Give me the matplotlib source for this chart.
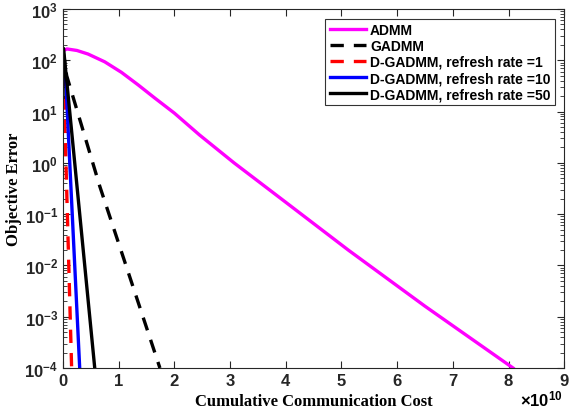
import numpy as np
import matplotlib
matplotlib.use("Agg")
import matplotlib.pyplot as plt
from matplotlib.ticker import LogLocator, NullFormatter, FixedLocator

plt.rcParams['font.family'] = ['Liberation Sans', 'DejaVu Sans']
plt.rcParams['mathtext.fontset'] = 'custom'
plt.rcParams['mathtext.rm'] = 'Liberation Sans:bold'
plt.rcParams['mathtext.bf'] = 'Liberation Sans:bold'

# cumulative communication cost, in units of 1e10
admm_x = [0.0, 0.07, 0.25, 0.45, 0.75, 1.05, 1.35, 1.64, 2.0, 2.45, 3.07,
          4.0, 5.12, 6.5, 8.08]
admm_y = [151, 166, 155, 132, 93, 58, 33, 18.6, 9.3, 3.5, 1.0,
          0.17, 0.02, 1.6e-3, 1e-4]

gadmm_x = [0.0, 0.066, 0.66, 1.74]
gadmm_y = [160, 50, 0.35, 1e-4]

dg1_x = [0.0, 0.023, 0.155]
dg1_y = [160, 15, 1e-4]

dg10_x = [0.0, 0.05, 0.30]
dg10_y = [150, 40, 1e-4]

dg50_x = [0.0, 0.0, 0.01, 0.57]
dg50_y = [19, 150, 170, 1e-4]

labels = ['ADMM', 'GADMM', 'D-GADMM, refresh rate =1',
          'D-GADMM, refresh rate =10', 'D-GADMM, refresh rate =50']

fig = plt.figure(figsize=(5.69, 4.14), dpi=100)
ax = fig.add_axes([0.1107, 0.1087, 0.881, 0.8673])

lw = 2.4
ax.plot(admm_x, admm_y, color='#ff00ff', lw=lw, label=labels[0])
ax.plot(gadmm_x, gadmm_y, color='black', lw=lw, ls=(0, (4, 3)), label=labels[1])
ax.plot(dg1_x, dg1_y, color='red', lw=lw, ls=(0, (4, 3)), label=labels[2])
ax.plot(dg10_x, dg10_y, color='blue', lw=lw, label=labels[3])
ax.plot(dg50_x, dg50_y, color='black', lw=lw, label=labels[4])

ax.set_yscale('log')
ax.set_ylim(1e-4, 1e3)
ax.set_xlim(0, 9)
ax.xaxis.set_major_locator(FixedLocator(range(10)))
ax.set_xticklabels([str(i) for i in range(10)], fontweight='bold', fontsize=12)
yt = [10.0 ** k for k in range(-4, 4)]
ax.set_yticks(yt)
ax.set_yticklabels([r'$\mathbf{10^{%d}}$' % k for k in range(-4, 4)], fontsize=12)
ax.yaxis.set_minor_locator(LogLocator(base=10, subs=np.arange(2, 10), numticks=20))
ax.yaxis.set_minor_formatter(NullFormatter())

ax.tick_params(which='both', direction='in', top=True, right=True, colors='#262626')
ax.tick_params(which='major', length=5, width=0.8)
ax.tick_params(which='minor', length=3, width=0.6)
for s in ax.spines.values():
    s.set_color('#262626')
    s.set_linewidth(0.8)

ax.set_xlabel('Cumulative Communication Cost', family='Liberation Serif',
              fontweight='bold', fontsize=12, labelpad=4)
ax.set_ylabel('Objective Error', family='Liberation Serif',
              fontweight='bold', fontsize=12, labelpad=2)
fig.text(0.99, 0.012, r'$\times\mathbf{10^{10}}$', ha='right', va='bottom',
         fontsize=12)

leg = ax.legend(loc='upper right', prop={'weight': 'bold', 'size': 10},
                frameon=True, fancybox=False, edgecolor='black',
                handlelength=2.6, handletextpad=0.3, borderpad=0.3,
                labelspacing=0.15, borderaxespad=0.7)
leg.get_frame().set_linewidth(0.8)

fig.savefig('out.png', dpi=100)
